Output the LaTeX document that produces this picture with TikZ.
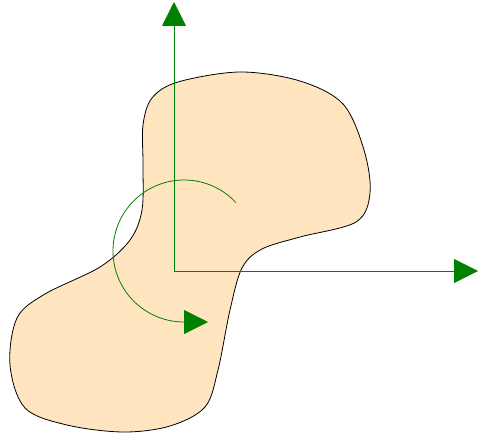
\documentclass[tikz,border=0pt]{standalone}
\usetikzlibrary{arrows.meta}
\definecolor{blobfill}{RGB}{255,228,192}
\definecolor{axisgreen}{RGB}{0,128,0}
\begin{document}
\begin{tikzpicture}[x=1pt,y=-1pt,
  greenline/.style={draw=axisgreen,line width=0.8pt},
  axisline/.style={greenline,-{Triangle[width=24pt,length=24pt]}},
  blob/.style={draw=black,fill=blobfill,line width=0.8pt}]
\useasboundingbox (0,0) rectangle (478,435);
\draw[blob] plot[smooth cycle,tension=0.55] coordinates {
 (143,125) (152,98) (178,82) (240,72) (300,81) (343,104) (364,150) (370,193) (356,222)
 (300,237) (262,249) (242,268) (230,310) (218,370) (205,407) (170,426) (123,432) (67,425)
 (25,408) (10,365) (17,318) (45,294) (100,267) (130,240) (142,210) (143,165)};
\coordinate (O) at (174,271);
\coordinate (Y) at (174,2);
\coordinate (X) at (478,271);
\coordinate (C) at (184,251);
\coordinate (E) at (184,322);
\coordinate (T) at (208,322);
\draw[axisline] (O) -- (Y);
\draw[axisline] (O) -- (X);
\draw[greenline] ([shift={(-43:71)}]C) arc[start angle=-43,end angle=-270,radius=71];
\draw[axisline] (E) -- (T);
\end{tikzpicture}
\end{document}
